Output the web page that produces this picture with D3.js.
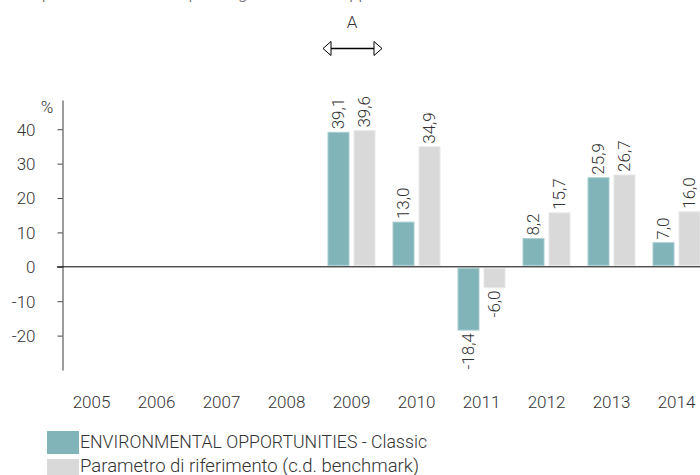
<!DOCTYPE html>
<html>
<head>
<meta charset="utf-8">
<script src="https://cdn.jsdelivr.net/npm/d3@7"></script>
<style>
  body { margin: 0; background: #fff; }
  svg { display: block; font-family: Roboto, "Noto Sans", sans-serif; font-weight: 300; }
</style>
</head>
<body>
<div id="chart"></div>
<script>
// data
var years = ["2005", "2006", "2007", "2008", "2009", "2010", "2011", "2012", "2013", "2014"];
var fundValues = [null, null, null, null, 39.1, 13.0, -18.4, 8.2, 25.9, 7.0];
var benchValues = [null, null, null, null, 39.6, 34.9, -6.0, 15.7, 26.7, 16.0];
var yTicks = [-20, -10, 0, 10, 20, 30, 40];
var seriesNames = ["ENVIRONMENTAL OPPORTUNITIES - Classic", "Parametro di riferimento (c.d. benchmark)"];
var seriesColors = ["#80b4b9", "#d9d9d9"];
var strokeColors = ["#a9cdd0", "#e8e8e8"];

var width = 700, height = 475;

var svg = d3.select("#chart").append("svg")
    .attr("width", width)
    .attr("height", height);

// clipped intro sentence at the very top
svg.append("text")
    .attr("x", 36)
    .attr("y", -1)
    .style("font-size", "17px")
    .style("fill", "#555")
    .text("questo sezione e in questo grafico sono rappresentate caratteristiche che anche le");

// "A" marker with double arrow
svg.append("text")
    .attr("x", 352)
    .attr("y", 28)
    .attr("text-anchor", "middle")
    .style("font-size", "17px")
    .style("fill", "#333")
    .text("A");

var arrow = svg.append("g").attr("class", "arrow");
arrow.append("line")
    .attr("x1", 331).attr("x2", 374)
    .attr("y1", 48.5).attr("y2", 48.5)
    .attr("stroke", "#000").attr("stroke-width", 1.5);
arrow.append("path")
    .attr("d", "M323,48.5 L331,41.5 L331,55.5 Z")
    .attr("fill", "#fff").attr("stroke", "#000").attr("stroke-width", 1);
arrow.append("path")
    .attr("d", "M382,48.5 L374,41.5 L374,55.5 Z")
    .attr("fill", "#fff").attr("stroke", "#000").attr("stroke-width", 1);

// scales
var x = d3.scaleBand()
    .domain(years)
    .range([59, 709])
    .padding(0);

var y = d3.scaleLinear()
    .domain([-30, 48.5])
    .range([370, 100]);

var barW = 22, barGap = 4;

// y axis
var yAxis = d3.axisLeft(y)
    .tickValues(yTicks)
    .tickSizeInner(5)
    .tickSizeOuter(0)
    .tickPadding(22)
    .tickFormat(function(d) { return d; });

var gy = svg.append("g")
    .attr("class", "y_axis")
    .attr("transform", "translate(62.5,0)")
    .call(yAxis);
gy.select(".domain").attr("stroke", "#666").attr("stroke-width", 1.3);
gy.selectAll(".tick line").attr("stroke", "#444");
gy.selectAll(".tick text")
    .style("font-size", "17px")
    .style("font-family", "Roboto, sans-serif")
    .style("font-weight", 300)
    .style("fill", "#333")
    .attr("dy", "0.35em");

svg.append("text")
    .attr("x", 47)
    .attr("y", 113)
    .attr("text-anchor", "middle")
    .style("font-size", "17px")
    .style("fill", "#333")
    .text("%");

// year labels
svg.selectAll(".year_label")
    .data(years)
    .enter().append("text")
    .attr("class", "year_label")
    .attr("x", function(d) { return x(d) + x.bandwidth() / 2; })
    .attr("y", 408)
    .attr("text-anchor", "middle")
    .style("font-size", "17px")
    .style("fill", "#333")
    .text(function(d) { return d; });

// bars
var series = [fundValues, benchValues];
series.forEach(function(vals, s) {
    var data = years.map(function(yr, i) { return {year: yr, value: vals[i]}; })
        .filter(function(d) { return d.value !== null; });

    var offset = s === 0 ? -(barW + barGap / 2) : barGap / 2;

    svg.selectAll(".bar_" + s)
        .data(data)
        .enter().append("rect")
        .attr("class", "bar_" + s)
        .attr("x", function(d) { return x(d.year) + x.bandwidth() / 2 + offset + 0.5; })
        .attr("y", function(d) { return d.value >= 0 ? y(d.value) : y(0) + 1.5; })
        .attr("width", barW - 1)
        .attr("height", function(d) { return Math.abs(y(d.value) - y(0)) - 1.5; })
        .attr("fill", seriesColors[s])
        .attr("stroke", strokeColors[s])
        .attr("stroke-width", 1);

    // value labels, rotated
    svg.selectAll(".val_" + s)
        .data(data)
        .enter().append("text")
        .attr("class", "val_" + s)
        .attr("transform", function(d) {
            var cx = x(d.year) + x.bandwidth() / 2 + offset + barW / 2;
            var cy = d.value >= 0 ? y(d.value) - 3 : y(d.value) + 3;
            return "translate(" + cx + "," + cy + ") rotate(-90)";
        })
        .attr("dy", "0.35em")
        .attr("text-anchor", function(d) { return d.value >= 0 ? "start" : "end"; })
        .style("font-size", "17px")
        .style("fill", "#333")
        .text(function(d) { return d.value.toFixed(1).replace(".", ","); });
});

// zero line
svg.append("line")
    .attr("x1", 57).attr("x2", width)
    .attr("y1", y(0)).attr("y2", y(0))
    .attr("stroke", "#000").attr("stroke-width", 1);

// legend (text squeezed to the narrow face of the original)
var legendTextW = [347, 339];

var legend = svg.selectAll(".legend")
    .data(seriesNames)
    .enter().append("g")
    .attr("class", "legend")
    .attr("transform", function(d, i) { return "translate(47," + (431 + i * 28) + ")"; });

legend.append("rect")
    .attr("width", 32)
    .attr("height", 23)
    .attr("fill", function(d, i) { return seriesColors[i]; });

legend.append("text")
    .attr("x", 33)
    .attr("y", function(d, i) { return i === 0 ? 17 : 13; })
    .attr("textLength", function(d, i) { return legendTextW[i]; })
    .attr("lengthAdjust", "spacingAndGlyphs")
    .style("font-size", "19px")
    .style("fill", "#333")
    .text(function(d) { return d; });
</script>
</body>
</html>
